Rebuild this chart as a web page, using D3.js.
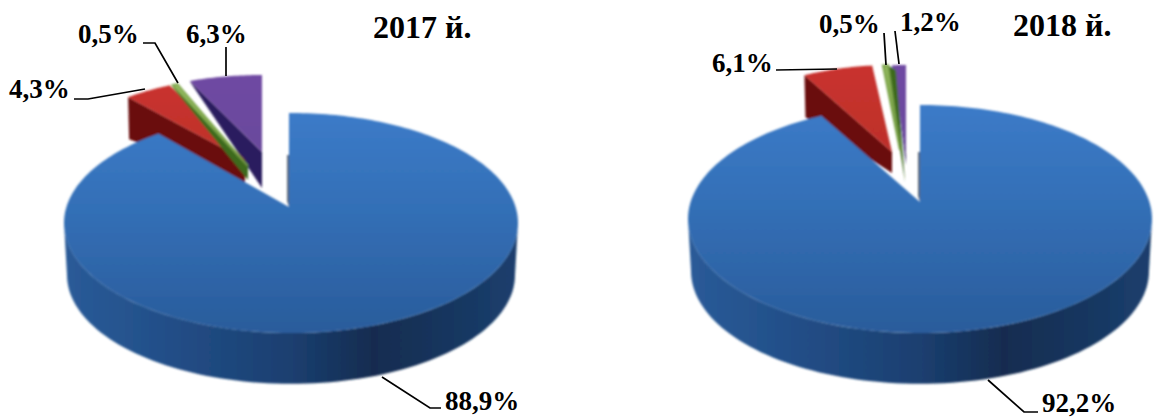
<!DOCTYPE html>
<html><head><meta charset="utf-8">
<script src="https://cdn.jsdelivr.net/npm/d3@7"></script>
<style>html,body{margin:0;padding:0;background:#fff}svg{display:block}
text{font-family:"Liberation Serif",serif;font-weight:bold;font-size:27px;fill:#000}
text.title{font-size:32px}</style>
</head><body><svg id="c" width="1155" height="417"></svg>
<script>
// data
const categories = ["Blue", "Red", "Green", "Purple"];
const values2017 = [88.9, 4.3, 0.5, 6.3];
const values2018 = [92.2, 6.1, 0.5, 1.2];
const titles = ["2017 й.", "2018 й."];

// layout only
const layouts = [
 { values: values2017, title: titles[0], titlePos:[373,38],
   main:{cx:291,cy:223,rx:227,ry:110,ax:289,ay:207,k:107,depth:52,gapW:2,gapH:52},
   slices:[null,
     {apex:[245,160],rx:182,ry:82,dropRim:42,dropApex:24},
     {apex:[248,166],rx:183,ry:89,dropRim:3,dropApex:14,line:1.5},
     {apex:[262,152],rx:187,ry:77,dropRim:2,dropApex:36}],
   labels:[[445,410],[9,98],[78,43],[186,43]],
   leaders:[[[382,377],[430,408],[441,408]],[[74,99],[88,99],[145,89]],[[143,43],[155,43],[178,83]],[[226,47],[226,76]]] },
 { values: values2018, title: titles[1], titlePos:[1013,36],
   main:{cx:920,cy:219,rx:232,ry:114,ax:920,ay:202,k:108,depth:52,gapW:2,gapH:50},
   slices:[null,
     {apex:[892,152],rx:186,ry:87,dropRim:42,dropApex:21},
     {apex:[900,150],rx:160,ry:85,dropRim:5,dropApex:32,wallEnd:true,wallDx:8,apexDx:5,line:2},
     {apex:[906,155],rx:186,ry:90,dropRim:2,dropApex:10}],
   labels:[[1042,412],[712,72],[819,33],[900,31]],
   leaders:[[[988,380],[1024,412],[1038,412]],[[776,70],[837,69]],[[884,33],[886,65]],[[895,31],[899,64]]] }
];
const topColors  = [null, ["#c9322e","#bd2f2b"], ["#93b95f","#7aa348"], ["#6f48a3","#6a4a9c"]];
const wallColors = [null, "#6a0f0f", "#3e6a1f", "#2b1f5e"];

const svg = d3.select("#c");
const defs = svg.append("defs");
defs.append("filter").attr("id","soft").attr("x","-5%").attr("y","-5%").attr("width","110%").attr("height","110%")
  .append("feGaussianBlur").attr("stdDeviation",0.8);
const grad = (id, x2, y2, stops) => {
  const g = defs.append("linearGradient").attr("id",id).attr("x1",0).attr("y1",0).attr("x2",x2).attr("y2",y2);
  stops.forEach(s => g.append("stop").attr("offset",s[0]).attr("stop-color",s[1]));
};
grad("blueTop",0,1,[[0,"#3c7bc8"],[0.45,"#336fb6"],[1,"#2a5c9b"]]);
grad("blueSide",1,0,[[0,"#2a5b98"],[0.2,"#23508a"],[0.5,"#1b3f70"],[0.68,"#142c50"],[0.85,"#18365f"],[1,"#1b3f6e"]]);
topColors.forEach((c,i)=>{ if(c) grad("top"+i,0,1,[[0,c[0]],[1,c[1]]]); });

const line = d3.line();
const fmt = d3.formatLocale({decimal:",",thousands:" ",grouping:[3],currency:["",""]}).format(".1f");
const pie = d3.pie().sort(null);

layouts.forEach(L => {
  const g = svg.append("g").attr("filter","url(#soft)");
  const arcs = pie(L.values);
  const m = L.main;

  // exploded slices: back-to-front
  const rimOf = (s,a) => [s.apex[0]+s.rx*Math.sin(a), s.apex[1]-s.ry*Math.cos(a)];
  [3,1,2].forEach(i => {
    const s = L.slices[i], a = arcs[i];
    const a0 = a.startAngle, a1 = a.endAngle;
    const W = rimOf(s, s.wallEnd ? a1 : a0);
    g.append("path").attr("fill",wallColors[i]).attr("d", line([
      W,[W[0]+(s.wallDx||1),W[1]+s.dropRim],[s.apex[0]+(s.apexDx||0),s.apex[1]+s.dropApex],s.apex])+"Z");
    const rim = d3.range(0,25).map(k => rimOf(s,a0+(a1-a0)*k/24));
    g.append("path").attr("fill",`url(#top${i})`)
      .attr("stroke",s.line?topColors[i][1]:"none").attr("stroke-width",s.line||0)
      .attr("d", line([s.apex,...rim])+"Z");
  });

  // main slice: rim by ray from the off-centre apex onto the ellipse
  const rim = th => {
    const dx=m.rx*Math.sin(th), dy=-m.k*Math.cos(th);
    const ox=(m.ax-m.cx)/m.rx, oy=(m.ay-m.cy)/m.ry, ux=dx/m.rx, uy=dy/m.ry;
    const A=ux*ux+uy*uy, B=2*(ox*ux+oy*uy), C=ox*ox+oy*oy-1;
    const t=(-B+Math.sqrt(B*B-4*A*C))/(2*A);
    return [m.ax+t*dx,m.ay+t*dy];
  };
  // inner wall seen in the gap
  g.append("path").attr("fill","#5a6878").attr("d", line([
    [m.ax,m.ay],[m.ax-m.gapW,m.ay-6],[m.ax-m.gapW,m.ay-m.gapH],[m.ax,m.ay-m.gapH]])+"Z");

  // side wall
  const ell = (p,dy,dr) => [m.cx+(m.rx-dr)*Math.cos(p), m.cy+dy+(m.ry-dr*0.4)*Math.sin(p)];
  const upper = d3.range(0,91).map(k => ell(Math.PI*k/90,0,0));
  const lower = d3.range(90,-1,-1).map(k => ell(Math.PI*k/90,m.depth,3));
  g.append("path").attr("fill","url(#blueSide)").attr("d", line([...upper,...lower])+"Z");

  // top face
  const a = arcs[0];
  const rimPts = d3.range(0,241).map(k => rim(a.startAngle+(a.endAngle-a.startAngle)*k/240));
  g.append("path").attr("fill","url(#blueTop)").attr("d", line([[m.ax,m.ay],...rimPts])+"Z");

  // leaders
  L.leaders.forEach(p => svg.append("path").attr("fill","none").attr("stroke","#000")
    .attr("stroke-width",1.7).attr("d", line(p)));

  // labels
  L.values.forEach((v,i) => svg.append("text").attr("x",L.labels[i][0]).attr("y",L.labels[i][1]).text(fmt(v)+"%"));
  svg.append("text").attr("class","title").attr("x",L.titlePos[0]).attr("y",L.titlePos[1]).text(L.title);
});
</script></body></html>
